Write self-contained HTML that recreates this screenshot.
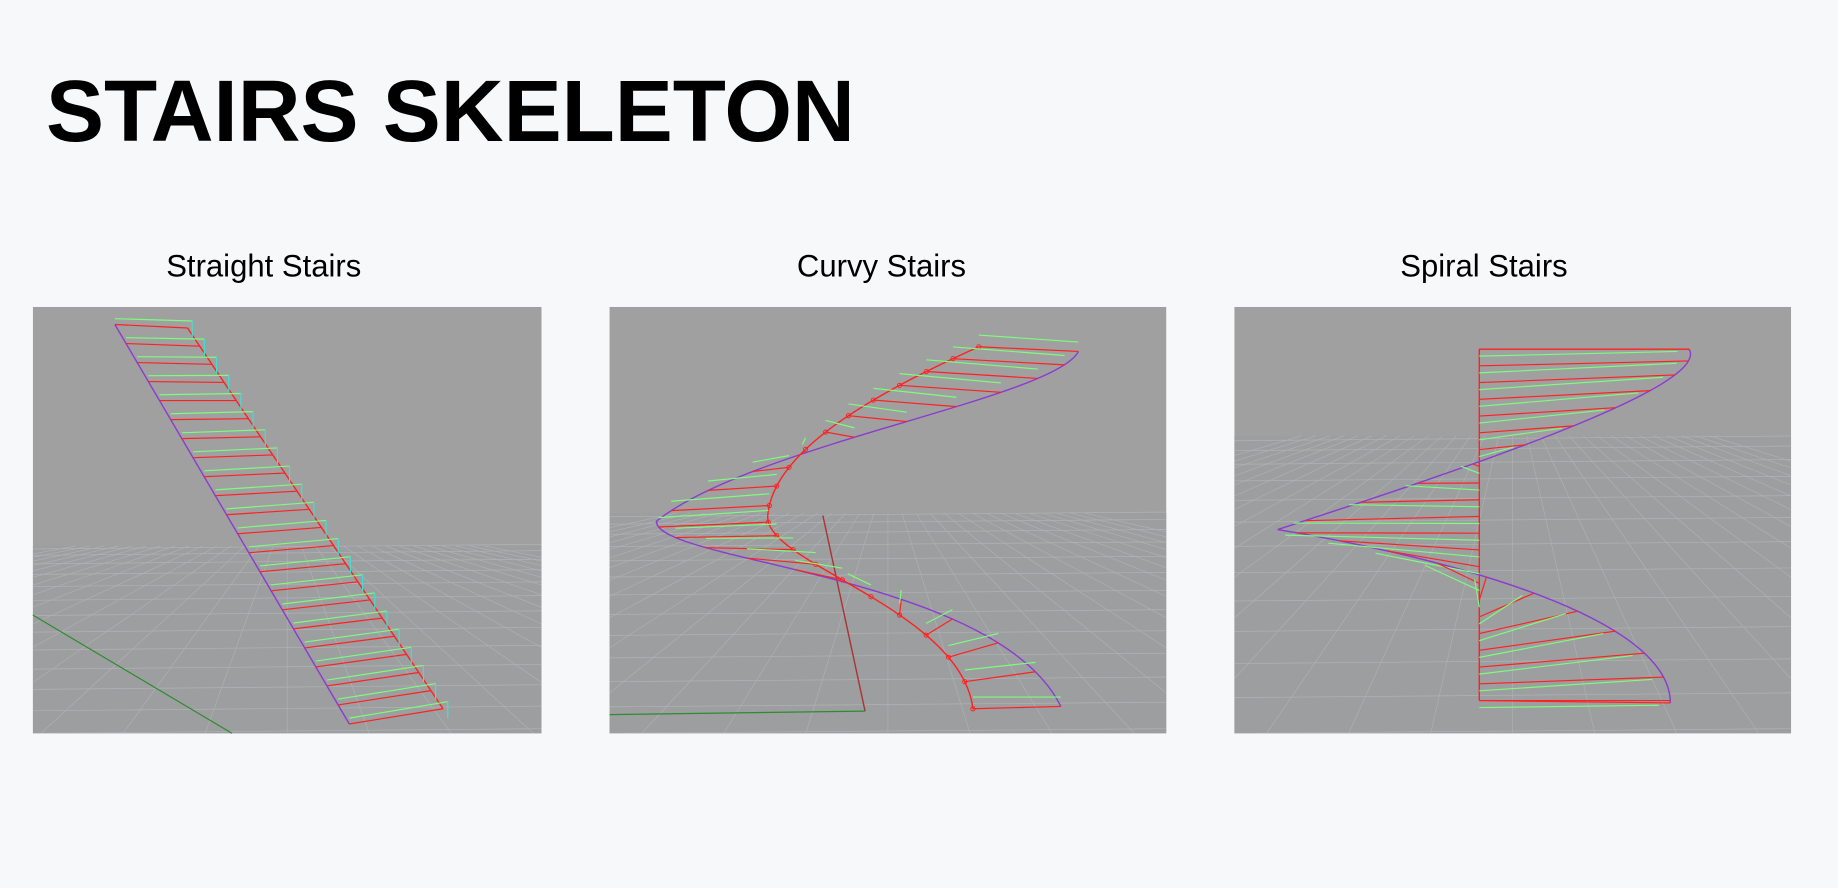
<!DOCTYPE html>
<html><head><meta charset="utf-8"><style>
html,body{margin:0;padding:0;background:#f7f8fa;}
body{width:1838px;height:888px;overflow:hidden;position:relative;font-family:"Liberation Sans",sans-serif;}
#title{position:absolute;left:46px;top:68px;font-size:87px;font-weight:bold;color:#000;letter-spacing:0px;margin:0;line-height:1;}
svg{position:absolute;left:0;top:0;}
</style></head><body>
<h1 id="title">STAIRS SKELETON</h1>
<svg id="s" width="1838" height="888" viewBox="0 0 1568 758" preserveAspectRatio="none"></svg>
<script>
const panelTitles=["Straight Stairs","Curvy Stairs","Spiral Stairs"];
const titleCx=[225,752,1266];
const panelX=[28,520,1053];
const panelW=[434,475,475];
const horizonY=[466,438,372];
const stepIdx=[0,1,2,3,4,5,6,7,8,9,10,11,12,13,14,15,16,17,18,19,20,21];
const NS="http://www.w3.org/2000/svg";
const svg=document.getElementById('s');
function el(t,a,p){const e=document.createElementNS(NS,t);for(const k in a)e.setAttribute(k,a[k]);(p||svg).appendChild(e);return e;}
function ln(x1,y1,x2,y2,c,w,p){return el('line',{x1,y1,x2,y2,stroke:c,'stroke-width':w||1},p);}
const defs=el('defs',{});
panelTitles.forEach((t,i)=>{
  const x=panelX[i],w=panelW[i];
  const cp=el('clipPath',{id:'cp'+i},defs);
  el('rect',{x,y:262,width:w,height:364},cp);
  const g=el('g',{'clip-path':'url(#cp'+i+')'});
  
  
  el('rect',{x,y:262,width:w,height:364,fill:'#a0a0a0'},g);
  el('rect',{x,y:horizonY[i],width:w,height:626-horizonY[i],fill:'#9d9e9f'},g);
  for(let k=1;k<14;k++){const y=horizonY[i]+Math.pow(k/13,1.6)*(626-horizonY[i]);ln(x,y,x+w,y-4,'#b0b3b6',0.6,g);}
  for(let k=-10;k<20;k++){const cx=x+w/2;ln(cx+(k-5)*12,horizonY[i],cx+(k-5)*70,626,'#b0b3b6',0.5,g);}
  const tx=el('text',{x:titleCx[i],y:236,'text-anchor':'middle','font-size':26.5,fill:'#000','font-family':'"Liberation Sans",sans-serif'},svg);
  tx.textContent=t;
  
  
});
// straight
ln(28,525,198,626,'#2e8b2e',1);
ln(98,277,298,618,'#8a3cd0',1.2);
ln(160,280,378,605,'#ff2020',1.2);
stepIdx.forEach(k=>{const n=21,t=k/n;
  const ax=98+(298-98)*t,ay=277+(618-277)*t,bx=160+(378-160)*t,by=280+(605-280)*t;
  ln(ax,ay,bx,by,'#ff2020',1);ln(ax,ay-5,bx+4,by-6,'#7dfc7d',1);ln(bx+4,by-6,bx+4,by+8,'#40e0d0',1);});
// curvy
function bz(p,t){const u=1-t;return [u*u*u*p[0]+3*u*u*t*p[2]+3*u*t*t*p[4]+t*t*t*p[6],u*u*u*p[1]+3*u*u*t*p[3]+3*u*t*t*p[5]+t*t*t*p[7]];}
const outerA=[920,300,900,340,640,380,560,445], outerB=[560,445,560,480,850,490,905,603];
const innerA=[835,296,760,330,660,380,655,440], innerB=[655,440,650,480,820,520,830,605];
ln(702,440,738,607,'#a33',1.2);ln(520,610,738,607,'#2e8b2e',1);
[[outerA,outerB,'#8a3cd0'],[innerA,innerB,'#ff2020']].forEach(([A,B,c])=>{
  let d='M'+A[0]+','+A[1]+' C'+A.slice(2).join(',')+' C'+B.slice(2).join(',');
  el('path',{d,fill:'none',stroke:c,'stroke-width':1.2});});
stepIdx.forEach(k=>{const t=k/21;const [S1,S2]=t<0.5?[outerA,innerA]:[outerB,innerB];const tt=t<0.5?t*2:(t-0.5)*2;
  const a=bz(S1,tt),b=bz(S2,tt);ln(a[0],a[1],b[0],b[1],'#ff2020',1);ln(a[0],a[1]-8,b[0],b[1]-10,'#7dfc7d',1);
  el('circle',{cx:b[0],cy:b[1],r:1.8,fill:'none',stroke:'#ff2020','stroke-width':0.8});});
// spiral
ln(1262,298,1262,598,'#ff2020',1.2);
const sp=[1441,298,1460,330,1250,400,1090,452], sp2=[1090,452,1200,470,1425,520,1425,600];
el('path',{d:'M1441,298 C1460,330 1250,400 1090,452 C1200,470 1425,520 1425,600',fill:'none',stroke:'#8a3cd0','stroke-width':1.2});
stepIdx.forEach(k=>{const t=k/21;const S=t<0.5?sp:sp2;const tt=t<0.5?t*2:(t-0.5)*2;const p=bz(S,tt);
  const cy=298+300*t;ln(1262,cy,p[0],p[1],'#ff2020',1);ln(1262,cy+6,p[0]-10,p[1]+2,'#7dfc7d',1);});
ln(1262,598,1425,598,'#ff2020',1);ln(1262,298,1441,298,'#ff2020',1);
</script>
</body></html>
